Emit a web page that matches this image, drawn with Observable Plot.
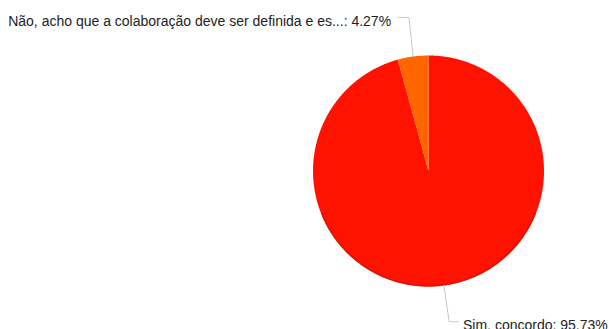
<!DOCTYPE html>
<html>
<head>
<meta charset="utf-8">
<script src="https://cdn.jsdelivr.net/npm/d3@7"></script>
<script src="https://cdn.jsdelivr.net/npm/@observablehq/plot@0.6"></script>
<style>
  html, body { margin: 0; padding: 0; background: #fff; }
  #chart { width: 609px; height: 329px; overflow: hidden; }
</style>
</head>
<body>
<div id="chart"></div>
<script>
// ---- data ----
const categories = ["Sim, concordo", "Não, acho que a colaboração deve ser definida e es..."];
const percents = [95.73, 4.27];
const colors = ["#ff1200", "#ff6600"];

// ---- layout (pixels) ----
const W = 609, H = 329;
const CX = 428, CY = 170.5, R = 115.5;

// unit coordinates: pie centered at (0,0), radius 1
const x = {domain: [-CX / R, (W - CX) / R], range: [0, W]};
const y = {domain: [-(H - CY) / R, CY / R], range: [H, 0]};

const pie = d3.pie().sort(null).value(d => d)(percents);
const pt = (a, r = 1) => [r * Math.sin(a), r * Math.cos(a)];

const slices = pie.map((p, i) => {
  const n = Math.max(4, Math.ceil((p.endAngle - p.startAngle) / 0.01));
  const pts = [{x: 0, y: 0, i}];
  for (let k = 0; k <= n; k++) {
    const a = p.startAngle + (p.endAngle - p.startAngle) * k / n;
    const [px, py] = pt(a);
    pts.push({x: px, y: py, i});
  }
  return pts;
});

// leader lines
const labels = pie.map((p, i) => {
  const mid = (p.startAngle + p.endAngle) / 2;
  const [ex, ey] = pt(mid);
  const up = ey > 0;
  const ly = up ? 1.33 : -1.305;
  const elbowX = ex + (up ? -0.035 : 0.045);
  const right = ex > 0;
  const endX = elbowX + (right ? 0.08 : -0.095);
  const textX = endX + (right ? 0.04 : -0.06);
  return {i, ex, ey, elbowX, ly, endX, textX, right,
          text: `${categories[i]}: ${percents[i].toFixed(2)}%`};
});
const leaderPts = labels.flatMap(l => [
  {x: l.ex, y: l.ey, i: l.i},
  {x: l.elbowX, y: l.ly, i: l.i},
  {x: l.endX, y: l.ly, i: l.i}
]);

// bottom shadow edge
const shadow = [];
for (let a = Math.PI * 0.62; a <= Math.PI * 1.38; a += 0.01) {
  const [px, py] = pt(a, 0.995);
  shadow.push({x: px, y: py});
}

const font = "Liberation Sans, Arial, sans-serif";
const marks = [
  ...slices.map((s, i) => Plot.line(s, {x: "x", y: "y", fill: colors[i], stroke: "none", curve: "linear-closed"})),
  Plot.line(shadow, {x: "x", y: "y", stroke: "#d00f00", strokeWidth: 1.5, strokeOpacity: 0.7}),
  Plot.line(leaderPts, {x: "x", y: "y", z: "i", stroke: "#c8c8c8", strokeWidth: 1}),
  Plot.text(labels.filter(l => !l.right), {x: "textX", y: "ly", text: "text", textAnchor: "end", fill: "#222", fontSize: 14, dy: 4, fontFamily: font}),
  Plot.text(labels.filter(l => l.right), {x: "textX", y: "ly", text: "text", textAnchor: "start", fill: "#222", fontSize: 14, dy: 4, fontFamily: font})
];

const chart = Plot.plot({
  width: W, height: H,
  margin: 0,
  x: {...x, axis: null},
  y: {...y, axis: null},
  style: {background: "#fff", fontFamily: font},
  marks
});
document.getElementById("chart").appendChild(chart);
</script>
</body>
</html>
